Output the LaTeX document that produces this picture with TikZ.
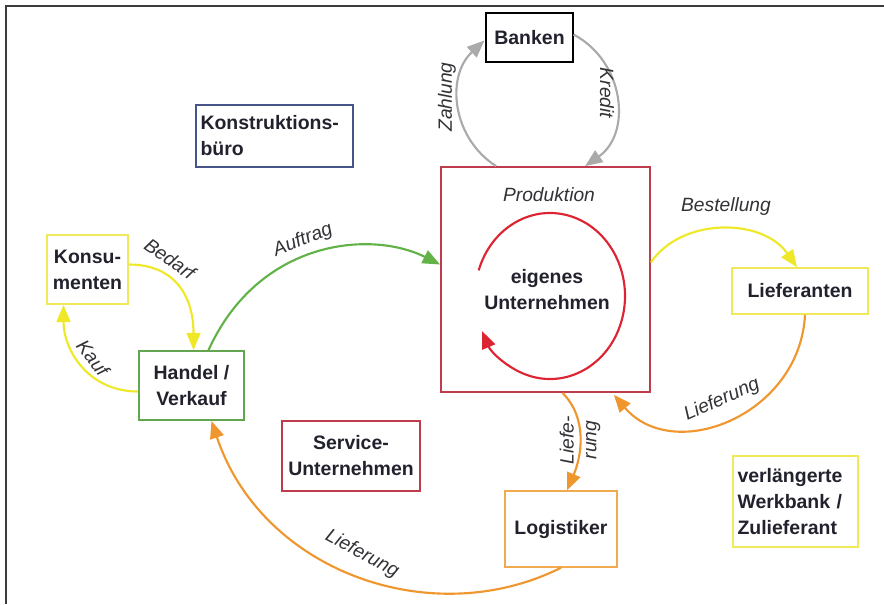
\documentclass[tikz,border=0pt]{standalone}
\usepackage{fontspec}
\setmainfont{Liberation Sans}
\usetikzlibrary{arrows.meta}

\definecolor{boxtext}{RGB}{34,34,46}
\definecolor{lbltext}{RGB}{50,50,55}
\definecolor{flowgray}{RGB}{170,170,170}
\definecolor{flowyellow}{RGB}{238,232,40}
\definecolor{boxyellow}{RGB}{240,234,90}
\definecolor{flowgreen}{RGB}{98,178,72}
\definecolor{floworange}{RGB}{240,150,46}
\definecolor{boxorange}{RGB}{240,170,80}
\definecolor{flowred}{RGB}{220,36,50}
\definecolor{boxred}{RGB}{190,60,75}
\definecolor{boxblue}{RGB}{70,85,135}
\definecolor{boxgreen}{RGB}{100,165,80}
\definecolor{framegray}{RGB}{60,60,60}

\tikzset{every picture/.style={line width=0.75pt}}
\tikzset{
  unit/.style={draw, line width=1.1pt, text=boxtext, font=\fontsize{14.6}{19.5}\selectfont\bfseries, align=center, inner sep=2pt},
  flowlbl/.style={text=lbltext, font=\fontsize{14.4}{17}\selectfont\itshape, inner sep=0.75pt, align=center},
  flow/.style={line width=1.6pt, -{Triangle[length=13pt,width=10.5pt]}}
}

\begin{document}
\begin{tikzpicture}[x=0.75pt,y=0.75pt,yscale=-1,xscale=1]
\useasboundingbox (0,0) rectangle (884,604);

%Straight Lines: frame
\draw [line width=1.5pt, framegray] (6,604) -- (6,6) -- (884,6) ;

%Shape: Rectangle boxes
\node [unit, draw=black, minimum width=65pt, minimum height=37pt] (bank) at (529.5,37.5) {Banken};
\node [unit, draw=boxblue, text width=111pt, align=left, inner xsep=3.5pt, minimum height=46.5pt] (konstr) at (274.5,136) {Konstruktions-\\büro};
\node [unit, draw=boxyellow, minimum width=61pt, minimum height=52pt] (konsum) at (87.5,269.5) {Konsu-\\menten};
\node [unit, draw=boxgreen, minimum width=79pt, minimum height=52pt] (handel) at (191.5,385.5) {Handel /\\Verkauf};
\node [unit, draw=boxred, minimum width=157pt, minimum height=169pt] (prod) at (545.5,279.5) {};
\node [unit, draw=boxyellow, minimum width=102pt, minimum height=34.5pt] (liefer) at (800,291) {Lieferanten};
\node [unit, draw=boxred, minimum width=103.5pt, minimum height=52.5pt] (service) at (351,456) {Service-\\Unternehmen};
\node [unit, draw=boxorange, minimum width=84pt, minimum height=57pt] (logist) at (561,529) {Logistiker};
\node [unit, draw=boxyellow, text width=87pt, align=left, inner xsep=3.5pt, minimum height=68pt] (werkbank) at (795.5,501.5) {verlängerte\\Werkbank /\\Zulieferant};

% Text Node
\node [flowlbl] (prodlbl) at (549,195) {Produktion};
% Text Node
\node [unit, draw=none] (eigen) at (547,290) {eigenes\\Unternehmen};

%Curve Lines: red cycle
\coordinate (kreis) at (550,296);
\draw [flow, flowred] ([shift={(198:75 and 83)}]kreis) arc [start angle=198, end angle=515, x radius=75, y radius=83] ;

%Curve Lines
\draw [flow, flowgray] ([shift={(56,0)}]prod.north west) .. controls +(-44,-28) and +(-39,36) .. ([shift={(-1,3)}]bank.west) ;
\draw [flow, flowgray] ([shift={(0,-3)}]bank.east) .. controls +(51,27) and +(47,-33) .. ([shift={(145,0)}]prod.north west) ;
\draw [flow, flowyellow] ([shift={(0,-5)}]konsum.east) .. controls +(45,0) and +(0,-55) .. ([shift={(2,0)}]handel.north) ;
\draw [flow, flowyellow] ([shift={(0,6)}]handel.west) .. controls +(-50,0) and +(0,45) .. ([shift={(-24,0)}]konsum.south) ;
\draw [flow, flowgreen] ([shift={(17,0)}]handel.north) .. controls +(50,-110) and +(-70,-35) .. ([shift={(0,-15)}]prod.west) ;
\draw [flow, flowyellow] ([shift={(0,-17)}]prod.east) .. controls +(30,-45) and +(-35,-50) .. ([shift={(-3,0)}]liefer.north) ;
\draw [flow, floworange] ([shift={(5,0)}]liefer.south) .. controls +(-5,100) and +(60,70) .. ([shift={(-37,2)}]prod.south east) ;
\draw [flow, floworange] ([shift={(17,0)}]prod.south) .. controls +(25,25) and +(15,-35) .. ([shift={(6,0)}]logist.north) ;
\draw [flow, floworange] (logist.south) .. controls +(-130,65) and +(50,150) .. ([shift={(20,0)}]handel.south) ;

% Text Node
\node [flowlbl, rotate=90] (zahlung) at (447,97) {Zahlung};
% Text Node
\node [flowlbl, rotate=-90] (kredit) at (607,93) {Kredit};
% Text Node
\node [flowlbl, rotate=-35] (bedarf) at (170,259) {Bedarf};
% Text Node
\node [flowlbl, rotate=-52] (kauf) at (93,358) {Kauf};
% Text Node
\node [flowlbl, rotate=22] (auftrag) at (303,240) {Auftrag};
% Text Node
\node [flowlbl] (bestell) at (726,207) {Bestellung};
% Text Node
\node [flowlbl, rotate=24] (liefa) at (722,400) {Lieferung};
% Text Node
\node [flowlbl, rotate=90] (liefb) at (580,440) {Liefe-\\rung};
% Text Node
\node [flowlbl, rotate=-28] (liefc) at (362,554) {Lieferung};

\end{tikzpicture}
\end{document}
